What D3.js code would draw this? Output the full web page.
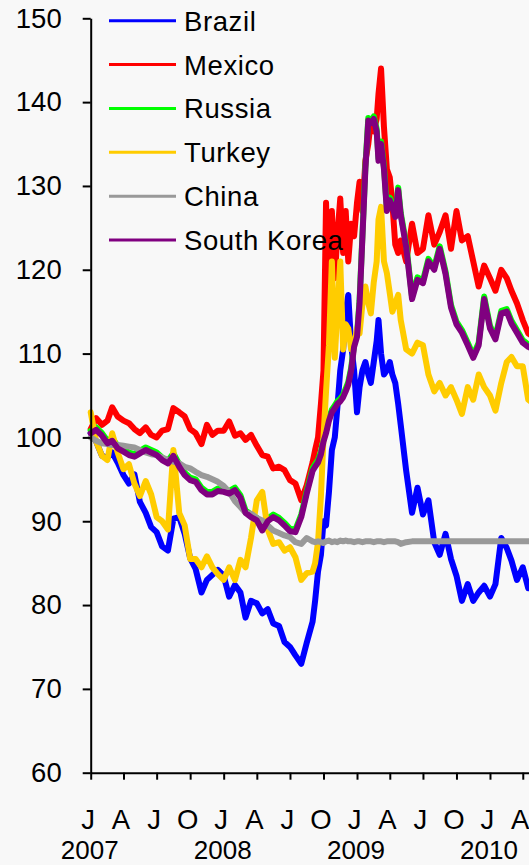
<!DOCTYPE html>
<html><head><meta charset="utf-8">
<script src="https://cdn.jsdelivr.net/npm/d3@7"></script>
<style>
html,body{margin:0;padding:0;background:#f8f8f8;overflow:hidden;}
svg{display:block;font-family:"Liberation Sans",Arial,sans-serif;}
</style></head><body><svg id="c" width="529" height="865"></svg>
<script>
const dates = [
"2007-01-01","2007-01-16","2007-02-01","2007-02-16","2007-03-01","2007-03-16","2007-04-01","2007-04-16","2007-05-01","2007-05-16",
"2007-06-01","2007-06-16","2007-07-01","2007-07-16","2007-08-01","2007-08-16","2007-09-01","2007-09-16","2007-10-01","2007-10-16",
"2007-11-01","2007-11-16","2007-12-01","2007-12-16","2008-01-01","2008-01-16","2008-02-01","2008-02-16","2008-03-01","2008-03-16",
"2008-04-01","2008-04-16","2008-05-01","2008-05-16","2008-06-01","2008-06-16","2008-07-01","2008-07-16","2008-08-01","2008-08-16",
"2008-09-01","2008-09-08","2008-09-16","2008-09-24","2008-10-01","2008-10-08","2008-10-16","2008-10-24",
"2008-11-01","2008-11-08","2008-11-16","2008-11-24","2008-12-01","2008-12-08","2008-12-16","2008-12-24",
"2009-01-01","2009-01-08","2009-01-16","2009-01-24","2009-02-01","2009-02-08","2009-02-16","2009-02-24",
"2009-03-01","2009-03-08","2009-03-16","2009-03-24","2009-04-01","2009-04-08","2009-04-16","2009-04-24",
"2009-05-01","2009-05-16","2009-06-01","2009-06-16","2009-07-01","2009-07-16","2009-08-01","2009-08-16",
"2009-09-01","2009-09-16","2009-10-01","2009-10-16","2009-11-01","2009-11-16","2009-12-01","2009-12-16",
"2010-01-01","2010-01-16","2010-02-01","2010-02-16","2010-03-01","2010-03-16","2010-04-01","2010-04-16","2010-05-01"
];
const brazil = [
100.5,99.5,97.8,97.6,98.2,97,95.5,94.5,95.6,92.3,91,89.3,88.7,87,86.5,90.3,90.5,88.5,85.6,84.3,
81.5,83,83.6,84.2,83.5,81,82.4,81.5,78.5,80.5,80.2,79,79.5,77.8,77.5,75.6,75,74,73,75.5,
78,80.5,84,86,90,89.5,93.5,98.5,100,103.5,108,110.5,115,117,111,108,
103,106,108,109,107.5,106.5,109,111.5,114,110,107.5,108,109,107.5,106.5,104,
101.5,96,91,94,90.8,92.5,87.5,86,88.5,85.5,83.5,80.5,82.5,80.5,81.5,82.3,81,82.5,88,86.8,85.3,83,84.5,82,82.5
];
const mexico = [
101,102.3,101.5,102,103.6,102.5,102,101.7,101,100.5,101.2,100.3,100,100.8,101,103.5,103,102.5,101,100.5,
99.2,101.5,100.3,100.8,100.8,101.9,100.2,100.5,99.7,100.3,99,97.9,97.7,96.3,96.5,96.1,94.9,94.5,92.5,94.3,
97,98.5,100,104,108,128,114,127,119,124,128.5,122,127,121,125.5,124,
128,130.5,127,133,135,137.8,136.5,138,141,144,137,132,131,128,123,122,
123.5,121,125.5,122,122.5,126.5,123,124.5,126.5,122.5,127,123.5,124,121,118,120.5,119,117.5,120,119,117.5,116,114,112.4,112
];
const russia = [
100.8,101.2,100.5,99.6,99.9,99.0,98.6,98.2,98.0,98.4,98.8,98.5,98.2,97.6,97.2,98.1,96.8,95.8,95.2,95.0,
94.0,93.5,93.5,93.9,93.8,93.6,94.0,93.1,91.3,90.8,90.4,89.2,90.3,90.8,90.4,89.8,89.1,89.0,90.8,93.6,
96.3,96.8,97.3,98.3,99.8,100.8,102.3,103.3,103.8,104.3,104.6,105.1,105.8,106.6,108.3,111.1,
112.3,116.3,124.3,132.3,138.1,137.8,138.3,136.8,133.3,135.3,132.3,127.3,128.6,127.8,126.6,129.8,
126.8,123.0,116.8,119.1,118.7,121.3,120.3,122.8,119.8,115.8,113.8,112.8,111.3,109.8,111.3,116.8,113.3,112.0,115.1,115.3,113.9,112.8,111.6,111.1,110.8
];
const turkey = [
103,99.5,97.8,97.3,100.5,98.2,96.2,96.8,94.5,93,94.8,93.2,90.5,90,89,98.5,91,89.5,85.5,85.5,
84.5,85.8,84.5,83.7,83,84.5,83,85.4,84.5,88,92.5,93.5,89,87.3,87.5,86.5,86.9,85.7,83,83.8,
84,85,87.5,93,100,105.5,111,121,109.5,115,121,110.5,113.5,113,110.5,111,
113,112.4,116,118,116,114.8,118.5,121,126,127.5,121,119.6,117.2,115,116,117,
114,110.5,110,111.3,111,107.5,105.5,106.5,105,106,104.5,102.8,106,104.5,107.5,106,105,103.2,106.5,109,109.6,108.5,108.5,104.5,104
];
const china = [
100,99.6,99.3,99.2,99.1,99.1,99.0,98.9,98.8,98.5,98.2,98,97.9,97.6,97.3,97.1,96.9,96.5,96.3,95.9,
95.5,95.3,95,94.7,94.2,93.5,92.4,91.7,91,90.9,90.4,90.1,89.5,88.9,88.6,88.3,88.1,87.5,87.3,88,
87.6,87.5,87.6,87.5,87.4,87.6,87.7,87.5,87.6,87.5,87.7,87.6,87.7,87.6,87.6,87.5,
87.6,87.6,87.5,87.6,87.6,87.6,87.5,87.6,87.6,87.6,87.5,87.6,87.6,87.6,87.6,87.5,
87.3,87.5,87.6,87.6,87.6,87.6,87.6,87.6,87.6,87.6,87.6,87.6,87.6,87.6,87.6,87.6,87.6,87.6,87.6,87.6,87.6,87.6,87.6,87.6,87.6
];
const southKorea = [
100.5,100.9,100.2,99.3,99.6,98.7,98.3,97.9,97.7,98.1,98.5,98.2,97.9,97.3,96.9,97.8,96.5,95.5,94.9,94.7,
93.7,93.2,93.2,93.6,93.5,93.3,93.7,92.8,91.0,90.5,90.1,88.9,90.0,90.5,90.1,89.5,88.8,88.7,90.5,93.3,
96,96.5,97,98,99.5,100.5,102,103,103.5,104,104.3,104.8,105.5,106.3,108,110.8,
112,116,124,132,137.8,137.5,138,136.5,133,135,132,127,128.3,127.5,126.3,129.5,
126.5,122.7,116.5,118.8,118.4,121,120,122.5,119.5,115.5,113.5,112.5,111,109.5,111,116.5,113,111.7,114.8,115,113.6,112.5,111.3,110.8,110.5
];
const seriesNames = ["Brazil","Mexico","Russia","Turkey","China","South Korea"];
const seriesColors = ["#0000ff","#ff0000","#00ff00","#ffcc00","#999999","#800080"];
const seriesValues = [brazil, mexico, russia, turkey, china, southKorea];
const tickDates = ["2007-01-01","2007-04-01","2007-07-01","2007-10-01","2008-01-01","2008-04-01","2008-07-01","2008-10-01",
"2009-01-01","2009-04-01","2009-07-01","2009-10-01","2010-01-01","2010-04-01"];
const tickLabels = ["J","A","J","O","J","A","J","O","J","A","J","O","J","A"];
const yearLabels = ["2007","2008","2009","2010"];
const yearDates = ["2007-01-01","2008-01-01","2009-01-01","2010-01-01"];
const yTicks = [60,70,80,90,100,110,120,130,140,150];

const parse = d3.utcParse("%Y-%m-%d");
const svg = d3.select("#c");
const x = d3.scaleUtc().domain([parse("2007-01-01"), parse("2010-05-01")]).range([90.7, 533.7]);
const y = d3.scaleLinear().domain([60,150]).range([772.7, 18.3]);
const FS = "27.5px";

// series
const line = d3.line().x(d => x(d.date)).y(d => y(d.v));
const gLines = svg.append("g");
seriesValues.forEach((vals, i) => {
  const pts = dates.map((d, j) => ({date: parse(d), v: vals[j]}));
  gLines.append("path").datum(pts)
    .attr("d", line)
    .attr("fill", "none")
    .attr("stroke", seriesColors[i])
    .attr("stroke-width", 6)
    .attr("stroke-linejoin", "round")
    .attr("stroke-linecap", "round");
});

// y axis
const yAxis = svg.append("g").attr("transform", "translate(90.7,0)")
  .call(d3.axisLeft(y).tickValues(yTicks).tickSize(8).tickSizeOuter(0).tickPadding(21));
yAxis.select(".domain").attr("stroke", "#000").attr("stroke-width", 2);
yAxis.selectAll(".tick line").attr("stroke", "#000").attr("stroke-width", 2);
yAxis.selectAll(".tick text").attr("fill", "#000").style("font-size", FS).style("font-family", "Liberation Sans, Arial, sans-serif");

// x axis
const xAxis = svg.append("g").attr("transform", "translate(0,772.7)")
  .call(d3.axisBottom(x).tickValues(tickDates.map(parse)).tickSize(7).tickSizeOuter(0)
    .tickFormat((d, i) => tickLabels[i]));
xAxis.select(".domain").attr("stroke", "#000").attr("stroke-width", 2);
xAxis.selectAll(".tick line").attr("stroke", "#000").attr("stroke-width", 2);
xAxis.selectAll(".tick text").attr("fill", "#000").attr("y", 56.5).attr("dy", 0).attr("dx", -3)
  .style("font-size", FS).style("font-family", "Liberation Sans, Arial, sans-serif");

svg.append("g").selectAll("text").data(yearLabels).join("text")
  .attr("x", (d, i) => x(parse(yearDates[i])) - 1)
  .attr("y", 859.2)
  .attr("text-anchor", "middle")
  .style("font-size", "26px")
  .attr("fill", "#000")
  .text(d => d);

// legend
const leg = svg.append("g");
seriesNames.forEach((n, i) => {
  const ly = 20.7 + i * 43.86;
  leg.append("line").attr("x1", 109).attr("x2", 176).attr("y1", ly).attr("y2", ly)
    .attr("stroke", seriesColors[i]).attr("stroke-width", 3);
  leg.append("text").attr("x", 184).attr("y", ly + 10)
    .style("font-size", FS).style("letter-spacing", "0.6px")
    .attr("fill", "#000").text(n);
});
</script></body></html>
